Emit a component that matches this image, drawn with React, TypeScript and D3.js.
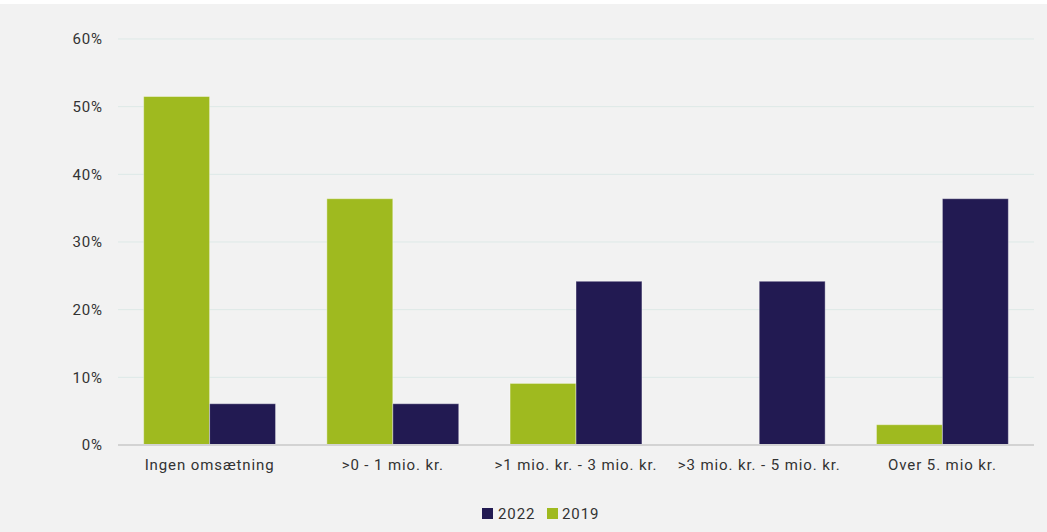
import { scaleBand, scaleLinear } from "d3";

const categories = [
  "Ingen omsætning",
  ">0 - 1 mio. kr.",
  ">1 mio. kr. - 3 mio. kr.",
  ">3 mio. kr. - 5 mio. kr.",
  "Over 5. mio kr.",
];
const values2019 = [51.5, 36.4, 9.1, 0, 3.0];
const values2022 = [6.1, 6.1, 24.2, 24.2, 36.4];
const yTicks = [0, 10, 20, 30, 40, 50, 60];

const W = 1047;
const H = 532;
const margin = { top: 39, right: 13, bottom: 87, left: 118 };

const GREEN = "#9fba1f";
const NAVY = "#221a52";
const FONT = "Roboto, 'DejaVu Sans', sans-serif";
const FS = 15;
const LS = 0.9;

export default function App() {
  const x = scaleBand<string>()
    .domain(categories)
    .range([margin.left, W - margin.right])
    .padding(0);
  const y = scaleLinear().domain([0, 60]).range([H - margin.bottom, margin.top]);

  const bw = x.bandwidth();
  const barW = bw * 0.36;
  const offset = bw * 0.14;

  return (
    <svg
      width={W}
      height={H}
      style={{ position: "absolute", top: 0, left: 0, display: "block" }}
    >
      <rect x={0} y={0} width={W} height={H} fill="#fff" />
      <rect x={0} y={4} width={W} height={H - 4} fill="#f2f2f2" />

      {/* grid + y axis labels */}
      {yTicks.map((t) => (
        <g key={t}>
          {t > 0 && (
            <line
              x1={margin.left}
              x2={W - margin.right}
              y1={y(t)}
              y2={y(t)}
              stroke="#dde9e7"
              strokeWidth={1}
            />
          )}
          <text
            x={103}
            y={y(t)}
            dy="0.35em"
            textAnchor="end"
            fontFamily={FONT}
            fontSize={FS}
            letterSpacing={LS}
            fill="#333"
          >
            {t}%
          </text>
        </g>
      ))}

      {/* bars */}
      {categories.map((c, i) => {
        const x0 = (x(c) ?? 0) + offset;
        return (
          <g key={c}>
            {values2019[i] > 0 && (
              <rect
                x={x0}
                y={y(values2019[i])}
                width={barW}
                height={y(0) - y(values2019[i])}
                fill={GREEN}
                stroke="#ffffff"
                strokeOpacity={0.4}
                strokeWidth={1}
              />
            )}
            <rect
              x={x0 + barW}
              y={y(values2022[i])}
              width={barW}
              height={y(0) - y(values2022[i])}
              fill={NAVY}
              stroke="#ffffff"
              strokeOpacity={0.4}
              strokeWidth={1}
            />
            <text
              x={(x(c) ?? 0) + bw / 2}
              y={y(0) + 20}
              dy="0.35em"
              textAnchor="middle"
              fontFamily={FONT}
              fontSize={FS}
              letterSpacing={LS}
              fill="#333"
            >
              {c}
            </text>
          </g>
        );
      })}

      {/* baseline */}
      <line
        x1={margin.left}
        x2={W - margin.right}
        y1={y(0)}
        y2={y(0)}
        stroke="#d3d3d3"
        strokeWidth={2}
      />

      {/* legend */}
      <g fontFamily={FONT} fontSize={FS} letterSpacing={LS} fill="#333">
        <rect x={482} y={508} width={11} height={11} fill={NAVY} />
        <text x={498} y={513.5} dy="0.35em">2022</text>
        <rect x={547} y={508} width={11} height={11} fill={GREEN} />
        <text x={562} y={513.5} dy="0.35em">2019</text>
      </g>
    </svg>
  );
}
